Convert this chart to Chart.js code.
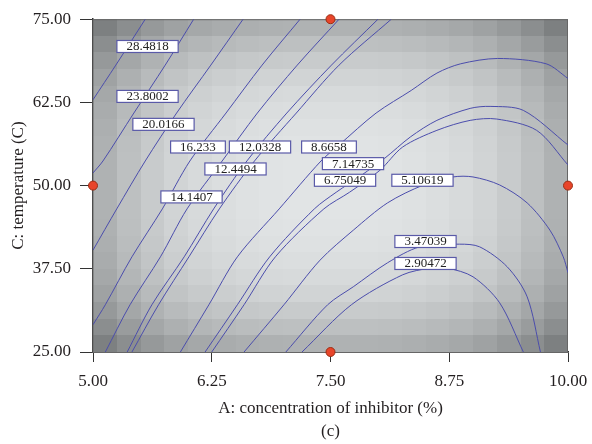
<!DOCTYPE html>
<html>
<head>
<meta charset="utf-8">
<script src="https://cdn.jsdelivr.net/npm/chart.js@4.4.1/dist/chart.umd.min.js"></script>
<style>
  html, body { margin: 0; padding: 0; background: #fff; }
  #wrap { width: 592px; height: 444px; position: relative; }
</style>
</head>
<body>
<div id="wrap"><canvas id="contour"></canvas></div>
<script>
const xTicks = [5, 6.25, 7.5, 8.75, 10];
const yTicks = [25, 37.5, 50, 62.5, 75];

// contour lines, [A, C] pairs
const c284818 = [[5.00, 62.9], [5.24, 68.1], [5.55, 75.0]];
const c238002 = [[5.00, 51.9], [5.105, 53.7], [5.43, 60.9], [5.76, 68.1], [6.06, 75.0]];
const c200166 = [[5.00, 40.3], [5.25, 46.5], [5.55, 53.7], [5.88, 60.9], [6.24, 68.1], [6.58, 75.0]];
const c16233 = [[5.00, 29.1], [5.13, 32.1], [5.41, 39.3], [5.73, 46.5], [6.02, 53.7], [6.40, 60.9], [6.78, 68.1], [7.18, 75.0]];
const c141407 = [[5.13, 25.0], [5.39, 32.1], [5.71, 39.3], [5.99, 46.5], [6.36, 53.7], [6.73, 60.9], [7.15, 68.1], [7.59, 75.0]];
const c124494 = [[5.36, 25.0], [5.62, 32.1], [5.96, 39.3], [6.27, 46.5], [6.62, 53.7], [7.04, 60.9], [7.51, 68.1], [8.00, 75.0]];
const c120328 = [[5.41, 25.0], [5.69, 32.1], [6.01, 39.3], [6.33, 46.5], [6.70, 53.7], [7.14, 60.9], [7.59, 68.1], [8.14, 75.0]];
const c86658 = [[5.92, 25.0], [6.22, 32.1], [6.52, 39.3], [6.96, 46.5], [7.40, 53.7], [7.59, 56.1], [7.98, 60.9], [8.35, 64.3], [8.62, 66.9], [8.87, 68.3], [9.26, 69.1], [9.77, 68.3], [10.00, 66.1]];
const c714735 = [[6.18, 25.0], [6.52, 32.1], [6.86, 39.3], [7.33, 46.5], [7.56, 49.0], [7.83, 51.6], [8.07, 54.1], [8.34, 57.3], [8.62, 59.8], [8.97, 61.6], [9.18, 61.9], [9.53, 61.3], [10.00, 56.1]];
const c675049 = [[6.25, 25.0], [6.59, 32.1], [6.92, 39.3], [7.43, 46.5], [7.70, 49.0], [8.02, 52.3], [8.26, 55.8], [8.62, 58.3], [8.97, 59.8], [9.25, 60.0], [9.67, 58.3], [10.00, 53.1]];
const c510619 = [[6.59, 25.0], [7.01, 32.1], [7.39, 38.8], [7.74, 43.3], [8.10, 47.4], [8.48, 50.1], [8.79, 51.3], [9.00, 51.3], [9.28, 50.1], [9.57, 47.4], [9.81, 43.3], [9.95, 39.3], [10.00, 36.9]];
const c347039 = [[7.03, 25.0], [7.47, 32.1], [7.74, 34.8], [8.10, 38.4], [8.44, 40.8], [8.86, 41.2], [9.07, 40.8], [9.36, 37.8], [9.57, 33.3], [9.71, 25.0]];
const c290472 = [[7.20, 25.0], [7.72, 32.1], [8.26, 36.6], [8.55, 37.6], [8.73, 37.6], [9.00, 36.3], [9.28, 32.4], [9.53, 25.0]];

const contours = [c284818, c238002, c200166, c16233, c141407, c124494, c120328,
                  c86658, c714735, c675049, c510619, c347039, c290472];

// label boxes on the lines
const labelText = ['28.4818', '23.8002', '20.0166', '16.233', '14.1407', '12.4494', '12.0328',
                   '8.6658', '7.14735', '6.75049', '5.10619', '3.47039', '2.90472'];
const labelA = [5.574, 5.574, 5.742, 6.105, 6.037, 6.50, 6.758, 7.484, 7.737, 7.653, 8.468, 8.50, 8.50];
const labelC = [70.9, 63.4, 59.2, 55.8, 48.3, 52.5, 55.8, 55.8, 53.3, 50.8, 50.8, 41.6, 38.3];

// design points on the edges
const designA = [5, 10, 7.5, 7.5];
const designC = [50, 50, 75, 25];

// grey level of the background tiles, bottom row first
const shade = [
  [128,142,153,162,168,172,175,177,178,178,178,178,177,175,172,168,162,153,142,128],
  [142,156,167,176,182,186,189,191,192,192,192,192,191,189,186,182,176,167,156,142],
  [153,167,178,187,193,197,200,202,203,203,203,203,202,200,197,193,187,178,167,153],
  [162,176,187,196,202,206,209,211,212,212,212,212,211,209,206,202,196,187,176,162],
  [168,182,193,202,208,212,215,217,218,218,218,218,217,215,212,208,202,193,182,168],
  [172,186,197,206,212,216,219,221,222,222,222,222,221,219,216,212,206,197,186,172],
  [175,189,200,209,215,219,222,224,225,225,225,225,224,222,219,215,209,200,189,175],
  [177,191,202,211,217,221,224,226,227,227,227,227,226,224,221,217,211,202,191,177],
  [178,192,203,212,218,222,225,227,228,228,228,228,227,225,222,218,212,203,192,178],
  [178,192,203,212,218,222,225,227,228,228,228,228,227,225,222,218,212,203,192,178],
  [178,192,203,212,218,222,225,227,228,228,228,228,227,225,222,218,212,203,192,178],
  [178,192,203,212,218,222,225,227,228,228,228,228,227,225,222,218,212,203,192,178],
  [177,191,202,211,217,221,224,226,227,227,227,227,226,224,221,217,211,202,191,177],
  [175,189,200,209,215,219,222,224,225,225,225,225,224,222,219,215,209,200,189,175],
  [172,186,197,206,212,216,219,221,222,222,222,222,221,219,216,212,206,197,186,172],
  [168,182,193,202,208,212,215,217,218,218,218,218,217,215,212,208,202,193,182,168],
  [162,176,187,196,202,206,209,211,212,212,212,212,211,209,206,202,196,187,176,162],
  [153,167,178,187,193,197,200,202,203,203,203,203,202,200,197,193,187,178,167,153],
  [142,156,167,176,182,186,189,191,192,192,192,192,191,189,186,182,176,167,156,142],
  [128,142,153,162,168,172,175,177,178,178,178,178,177,175,172,168,162,153,142,128]
];

const serif = '"Liberation Serif", "DejaVu Serif", serif';

const shadePlugin = {
  id: 'shade',
  beforeDatasetsDraw(chart) {
    const {ctx, chartArea, scales: {x, y}} = chart;
    const xMin = xTicks[0], xMax = xTicks[xTicks.length - 1];
    const yMin = yTicks[0], yMax = yTicks[yTicks.length - 1];
    const dx = (xMax - xMin) / shade[0].length;
    const dy = (yMax - yMin) / shade.length;
    ctx.save();
    shade.forEach((row, j) => {
      row.forEach((v, i) => {
        const x0 = Math.round(x.getPixelForValue(xMin + i * dx));
        const x1 = Math.round(x.getPixelForValue(xMin + (i + 1) * dx));
        const y0 = Math.round(y.getPixelForValue(yMin + j * dy));
        const y1 = Math.round(y.getPixelForValue(yMin + (j + 1) * dy));
        ctx.fillStyle = `rgb(${v - 3},${v},${v + 1})`;
        ctx.fillRect(x0, y1, x1 - x0, y0 - y1);
      });
    });
    ctx.strokeStyle = '#666';
    ctx.lineWidth = 1;
    ctx.strokeRect(chartArea.left, chartArea.top + 0.5, chartArea.right - chartArea.left - 0.5, chartArea.bottom - chartArea.top);
    ctx.restore();
  }
};

const labelPlugin = {
  id: 'contourLabels',
  afterDatasetsDraw(chart) {
    const {ctx, scales: {x, y}} = chart;
    ctx.save();
    ctx.font = '13px ' + serif;
    ctx.textAlign = 'center';
    ctx.textBaseline = 'middle';
    labelText.forEach((t, k) => {
      const cx = x.getPixelForValue(labelA[k]);
      const cy = y.getPixelForValue(labelC[k]);
      const w = ctx.measureText(t).width + 19;
      const h = 12;
      ctx.fillStyle = '#fff';
      ctx.fillRect(cx - w / 2, cy - h / 2, w, h);
      ctx.strokeStyle = '#5a5aa8';
      ctx.lineWidth = 1.2;
      ctx.strokeRect(cx - w / 2, cy - h / 2, w, h);
      ctx.fillStyle = '#222';
      ctx.fillText(t, cx, cy + 0.5);
    });
    ctx.fillStyle = '#231f20';
    ctx.font = '17px ' + serif;
    ctx.fillText('(c)', (chart.chartArea.left + chart.chartArea.right) / 2, 432);
    ctx.restore();
  }
};

const datasets = contours.map(pts => ({
  data: pts.map(p => ({x: p[0], y: p[1]})),
  showLine: true,
  borderColor: '#4b4dac',
  borderWidth: 1,
  pointRadius: 0,
  tension: 0.3,
  fill: false
}));

datasets.push({
  data: designA.map((a, k) => ({x: a, y: designC[k]})),
  showLine: false,
  pointRadius: 4.5,
  pointBackgroundColor: '#e8452a',
  pointBorderColor: '#9a2e14',
  pointBorderWidth: 1,
  clip: false
});

new Chart(document.getElementById('contour'), {
  type: 'scatter',
  data: { datasets: datasets },
  plugins: [shadePlugin, labelPlugin],
  options: {
    responsive: true,
    maintainAspectRatio: false,
    animation: false,
    layout: { padding: { left: 0, right: 24, top: 19, bottom: 0 } },
    plugins: {
      legend: { display: false },
      tooltip: { enabled: false }
    },
    scales: {
      x: {
        type: 'linear',
        min: 5,
        max: 10,
        afterFit: s => { s.height = 92; s.paddingLeft = 0; s.paddingRight = 0; },
        afterBuildTicks: s => { s.ticks = xTicks.map(v => ({value: v})); },
        ticks: {
          callback: v => v.toFixed(2),
          font: { family: serif, size: 17 },
          color: '#231f20',
          padding: 9,
          maxRotation: 0,
          autoSkip: false
        },
        grid: { drawOnChartArea: false, drawTicks: true, tickLength: 10, color: '#333', lineWidth: 1 },
        border: { display: true, color: '#333', width: 1.5 },
        title: {
          display: true,
          text: 'A: concentration of inhibitor (%)',
          font: { family: serif, size: 17 },
          color: '#231f20',
          padding: { top: 0, bottom: 25 }
        }
      },
      y: {
        type: 'linear',
        min: 25,
        max: 75,
        afterFit: s => { s.width = 93; },
        afterBuildTicks: s => { s.ticks = yTicks.map(v => ({value: v})); },
        ticks: {
          callback: v => v.toFixed(2),
          font: { family: serif, size: 17 },
          color: '#231f20',
          padding: 9,
          autoSkip: false
        },
        grid: { drawOnChartArea: false, drawTicks: true, tickLength: 13, color: '#333', lineWidth: 1 },
        border: { display: true, color: '#333', width: 1.5 },
        title: {
          display: true,
          text: 'C: temperature (C)',
          font: { family: serif, size: 17 },
          color: '#231f20',
          padding: { top: 8, bottom: 0 }
        }
      }
    }
  }
});
</script>
</body>
</html>
